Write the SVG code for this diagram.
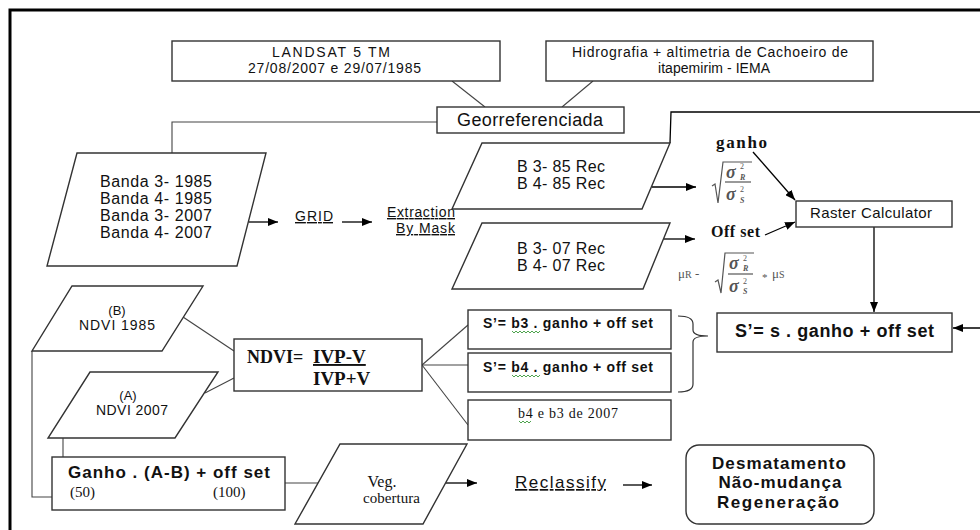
<svg xmlns="http://www.w3.org/2000/svg" width="980" height="530" viewBox="0 0 980 530">
<defs>
<marker id="ah" viewBox="0 0 10 8" refX="10" refY="4" markerWidth="10" markerHeight="8" markerUnits="userSpaceOnUse" orient="auto"><path d="M0,0 L10,4 L0,8 z" fill="#000"/></marker>
<style>
.box{fill:#fff;stroke:#333;stroke-width:1.4}
.ln{fill:none;stroke:#444;stroke-width:1.1}
.ar{fill:none;stroke:#000;stroke-width:1.3;marker-end:url(#ah)}
.s{font-family:"Liberation Sans",Arial,sans-serif;fill:#111}
.sb{font-family:"Liberation Sans",Arial,sans-serif;font-weight:bold;fill:#111}
.r{font-family:"Liberation Serif","Times New Roman",serif;fill:#111}
.rb{font-family:"Liberation Serif","Times New Roman",serif;font-weight:bold;fill:#111}
.f{font-family:"Liberation Serif","Times New Roman",serif;fill:#555}
.fi{font-family:"Liberation Serif","Times New Roman",serif;font-style:italic;font-weight:bold;fill:#555}
.u{text-decoration:underline}
.wv{fill:none;stroke:#3a9a3a;stroke-width:0.9}
</style>
</defs>
<rect width="980" height="530" fill="#fff"/>
<path d="M10,532 V10 H982" fill="none" stroke="#000" stroke-width="3"/>

<g id="connectors">
<line class="ln" x1="452" y1="81" x2="485" y2="107"/>
<line class="ln" x1="593" y1="81" x2="562" y2="107"/>
<polyline class="ln" points="437,122 172,122 172,153"/>
<polyline class="ar" points="670,143 671,112 992,112 992,328 953,328"/>
<line class="ar" x1="249" y1="222" x2="278" y2="222"/>
<line class="ar" x1="342" y1="222" x2="372" y2="222"/>
<line class="ar" x1="652" y1="187" x2="696" y2="187"/>
<line class="ar" x1="664" y1="239" x2="695" y2="239"/>
<line class="ar" x1="753" y1="152" x2="795" y2="200"/>
<line class="ar" x1="765" y1="235" x2="795" y2="222"/>
<line class="ar" x1="874" y1="227" x2="874" y2="312"/>
<line class="ln" x1="183" y1="317" x2="234" y2="351"/>
<line class="ln" x1="205" y1="393" x2="234" y2="378"/>
<line class="ln" x1="422" y1="365" x2="468" y2="325"/>
<line class="ln" x1="422" y1="365" x2="468" y2="365"/>
<line class="ln" x1="422" y1="365" x2="468" y2="425"/>
<polyline class="ln" points="32,351 32,497 52,497"/>
<line class="ln" x1="63" y1="438" x2="63" y2="457"/>
<line class="ln" x1="285" y1="483" x2="318" y2="483"/>
<line class="ar" x1="446" y1="483" x2="477" y2="483"/>
<line class="ar" x1="623" y1="485" x2="652" y2="485"/>
</g>

<g id="landsat">
<rect class="box" x="172" y="41" width="328" height="40"/>
<text class="s" x="272" y="57" font-size="14" textLength="118">LANDSAT 5 TM</text>
<text class="s" x="248" y="73" font-size="14" textLength="173">27/08/2007 e 29/07/1985</text>
</g>

<g id="hidrografia">
<rect class="box" x="546" y="41" width="327" height="40"/>
<text class="s" x="572" y="57" font-size="14" textLength="276">Hidrografia + altimetria de Cachoeiro de</text>
<text class="s" x="658" y="73" font-size="14" textLength="112">itapemirim - IEMA</text>
</g>

<g id="georreferenciada">
<rect class="box" x="437" y="107" width="187" height="26"/>
<text class="s" x="457" y="126" font-size="18" textLength="146">Georreferenciada</text>
</g>

<g id="bandas">
<polygon class="box" points="77,153 266,153 237,266 47,266"/>
<text class="s" x="100" y="187" font-size="16" textLength="112">Banda 3- 1985</text>
<text class="s" x="100" y="204" font-size="16" textLength="112">Banda 4- 1985</text>
<text class="s" x="100" y="221" font-size="16" textLength="112">Banda 3- 2007</text>
<text class="s" x="100" y="238" font-size="16" textLength="112">Banda 4- 2007</text>
</g>

<g id="grid">
<text class="s u" x="295" y="221" font-size="14" textLength="38">GRID</text>
</g>

<g id="extraction">
<text class="s u" x="387" y="217" font-size="14" textLength="68">Extraction</text>
<text class="s u" x="396" y="233" font-size="14" textLength="59">By Mask</text>
</g>

<g id="b385">
<polygon class="box" points="482,143 670,143 642,209 452,209"/>
<text class="s" x="517" y="172" font-size="16" textLength="88">B 3- 85 Rec</text>
<text class="s" x="517" y="189" font-size="16" textLength="88">B 4- 85 Rec</text>
</g>

<g id="b307">
<polygon class="box" points="482,223 670,223 643,289 452,289"/>
<text class="s" x="517" y="254" font-size="16" textLength="88">B 3- 07 Rec</text>
<text class="s" x="517" y="271" font-size="16" textLength="88">B 4- 07 Rec</text>
</g>

<g id="ganho">
<text class="rb" x="716" y="148" font-size="17" textLength="51">ganho</text>
<path d="M712,186 L715,184 L718,203 L723,162 L752,162" fill="none" stroke="#555" stroke-width="1.2"/>
<text class="fi" x="726" y="178" font-size="18">σ</text>
<text class="f" x="740" y="169" font-size="8">2</text>
<text class="fi" x="740" y="180" font-size="8">R</text>
<line x1="725" y1="182" x2="751" y2="182" stroke="#555" stroke-width="1.2"/>
<text class="fi" x="726" y="200" font-size="18">σ</text>
<text class="f" x="740" y="192" font-size="8">2</text>
<text class="fi" x="740" y="203" font-size="8">S</text>
</g>

<g id="offset">
<text class="rb" x="711" y="237" font-size="16" textLength="49">Off set</text>
<text class="f" x="678" y="278" font-size="13">μ<tspan font-size="10">R</tspan> -</text>
<path d="M715,282 L718,280 L721,293 L725,253 L754,253" fill="none" stroke="#555" stroke-width="1.2"/>
<text class="fi" x="729" y="269" font-size="18">σ</text>
<text class="f" x="743" y="261" font-size="8">2</text>
<text class="fi" x="743" y="271" font-size="8">R</text>
<line x1="728" y1="274" x2="753" y2="274" stroke="#555" stroke-width="1.2"/>
<text class="fi" x="729" y="292" font-size="18">σ</text>
<text class="f" x="743" y="284" font-size="8">2</text>
<text class="fi" x="743" y="294" font-size="8">S</text>
<text class="f" x="762" y="281" font-size="11">*</text>
<text class="f" x="772" y="278" font-size="13">μ<tspan font-size="10">S</tspan></text>
</g>

<g id="raster">
<rect class="box" x="796" y="201" width="156" height="26"/>
<text class="s" x="810" y="218" font-size="15" textLength="122">Raster Calculator</text>
</g>

<g id="sformula">
<rect class="box" x="717" y="313" width="235" height="39"/>
<text class="sb" x="735" y="337" font-size="18" textLength="199">S’= s . ganho + off set</text>
</g>

<g id="ndvi1985">
<polygon class="box" points="72,286 203,286 162,351 32,351"/>
<text class="s" x="117" y="315" font-size="13" text-anchor="middle">(B)</text>
<text class="s" x="79" y="330" font-size="14" textLength="76">NDVI 1985</text>
</g>

<g id="ndvi2007">
<polygon class="box" points="90,372 218,372 175,438 48,438"/>
<text class="s" x="128" y="400" font-size="13" text-anchor="middle">(A)</text>
<text class="s" x="96" y="415" font-size="14" textLength="72">NDVI 2007</text>
</g>

<g id="ndvi">
<rect class="box" x="234" y="339" width="188" height="52"/>
<text class="rb" x="247" y="363" font-size="18">NDVI=</text>
<text class="rb u" x="313" y="363" font-size="19">IVP-V</text>
<text class="rb" x="313" y="385" font-size="19">IVP+V</text>
</g>

<g id="sb3">
<rect class="box" x="468" y="310" width="203" height="39"/>
<text class="sb" x="483" y="328" font-size="14" textLength="170">S’= b3 . ganho + off set</text>
<path class="wv" d="M512,331 l2,2 l2,-2 l2,2 l2,-2 l2,2 l2,-2 l2,2 l2,-2 l2,2 l2,-2 l2,2 l2,-2 l2,2 l2,-2"/>
</g>

<g id="sb4">
<rect class="box" x="468" y="353" width="203" height="39"/>
<text class="sb" x="483" y="372" font-size="14" textLength="170">S’= b4 . ganho + off set</text>
<path class="wv" d="M512,375 l2,2 l2,-2 l2,2 l2,-2 l2,2 l2,-2 l2,2 l2,-2 l2,2 l2,-2 l2,2 l2,-2 l2,2 l2,-2"/>
</g>

<g id="b4b3">
<rect class="box" x="468" y="400" width="203" height="40"/>
<text class="r" x="518" y="418" font-size="14" textLength="100">b4 e b3 de 2007</text>
<path class="wv" d="M519,421 l2,2 l2,-2 l2,2 l2,-2 l2,2 l2,-2"/>
</g>

<g id="brace">
<path d="M678,316 C688,316 693,318 693,324 L693,330 C693,334 697,336 708,336 C697,336 693,338 693,342 L693,384 C693,390 688,392 678,392" fill="none" stroke="#333" stroke-width="1.2"/>
</g>

<g id="ganhobox">
<rect class="box" x="52" y="457" width="233" height="53"/>
<text class="sb" x="68" y="478" font-size="17" textLength="202">Ganho . (A-B) + off set</text>
<text class="r" x="70" y="497" font-size="15">(50)</text>
<text class="r" x="213" y="497" font-size="15">(100)</text>
</g>

<g id="veg">
<polygon class="box" points="340,444 467,444 423,524 295,524"/>
<text class="r" x="382" y="487" font-size="16" text-anchor="middle">Veg.</text>
<text class="r" x="363" y="503" font-size="15" textLength="57">cobertura</text>
</g>

<g id="reclassify">
<text class="s u" x="515" y="488" font-size="17" textLength="91">Reclassify</text>
</g>

<g id="resultado">
<rect class="box" x="686" y="445" width="188" height="79" rx="13" ry="13"/>
<text class="sb" x="779" y="469" font-size="17" text-anchor="middle" textLength="134">Desmatamento</text>
<text class="sb" x="780" y="488" font-size="17" text-anchor="middle" textLength="123">Não-mudança</text>
<text class="sb" x="778" y="508" font-size="17" text-anchor="middle" textLength="122">Regeneração</text>
</g>
</svg>
